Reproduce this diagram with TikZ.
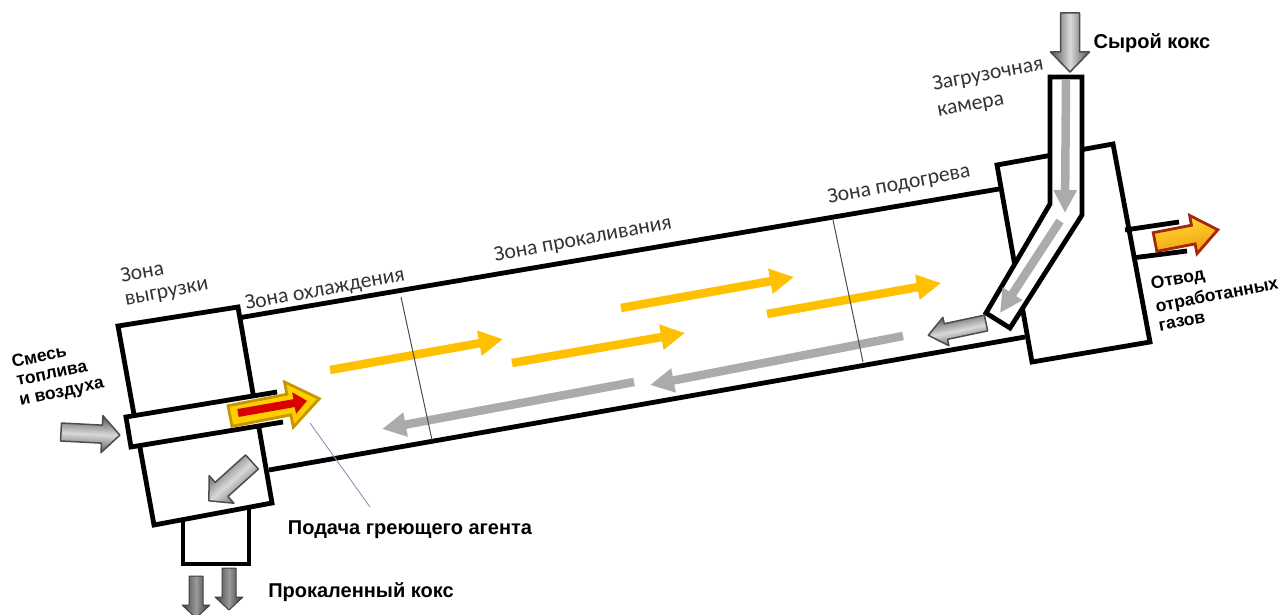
\documentclass[tikz,border=0pt]{standalone}
\usepackage{fontspec}
\setmainfont{Carlito}
\newfontfamily\boldlab{Liberation Sans}
\usetikzlibrary{arrows.meta}
\definecolor{flameY}{HTML}{FFC000}
\definecolor{grayflow}{HTML}{ABABAB}
\definecolor{zonetxt}{HTML}{333333}
\definecolor{goldedge}{HTML}{C89600}
\definecolor{goldfill}{HTML}{FFCE00}
\definecolor{rededge}{HTML}{A5280F}
\definecolor{flamemid}{HTML}{FFE030}
\definecolor{flamelow}{HTML}{F29A10}
\newcommand{\arrang}{0}
\tikzset{
  wall/.style={line width=4.8pt,black,line join=miter},
  divider/.style={line width=1pt,black!70},
  leader/.style={line width=0.9pt,blue!25!gray!70},
  hotflow/.style={line width=8.5pt,flameY,-{Triangle[length=24pt,width=24pt]}},
  coldflow/.style={line width=8.5pt,grayflow,-{Triangle[length=24pt,width=23pt]}},
  chuteflow/.style={line width=8.5pt,grayflow,-{Triangle[length=23pt,width=22pt]}},
  zonelab/.style={font=\fontsize{21.7}{24}\selectfont,text=zonetxt,inner sep=0pt,rotate=10.5},
  boldlabel/.style={font=\boldlab\bfseries\fontsize{20}{23}\selectfont,inner sep=0pt},
  smalllab/.style={font=\boldlab\bfseries\fontsize{17.5}{20}\selectfont,inner sep=0pt},
  steel/.style={draw=black!70,line width=1.5pt,line join=round,top color=black!68,bottom color=black!68,middle color=black!15,shading angle=\arrang},
  darksteel/.style={draw=black!75,line width=1pt,line join=round,top color=black!80,bottom color=black!75,middle color=black!40,shading angle=\arrang},
  goldflame/.style={draw=goldedge,line width=2.8pt,line join=miter,fill=goldfill},
  redcore/.style={draw=none,fill=red!85!black},
  redflame/.style={draw=rededge,line width=2.8pt,line join=miter,top color=flamemid,middle color=flamemid,bottom color=flamelow,shading angle=\arrang}
}
% block arrow: x, y, visual angle, length, shaft half, head half, head length, style
\newcommand{\blockarr}[8]{%
  \begin{scope}[shift={(#1,#2)},rotate=#3]
    \renewcommand{\arrang}{#3}%
    \path[#8] (0,-#5) -- ({#4-#7},-#5) -- ({#4-#7},-#6) -- (#4,0)
      -- ({#4-#7},#6) -- ({#4-#7},#5) -- (0,#5) -- cycle;
  \end{scope}}
\begin{document}
\begin{tikzpicture}[x=1pt,y=-1pt]
\useasboundingbox (0,0) rectangle (1283,615);
% tube walls
\coordinate (tubeTL) at (238,318);
\coordinate (tubeTR) at (999,189);
\coordinate (tubeBL) at (269,470);
\coordinate (tubeBR) at (1025,337);
\draw[wall] (tubeTL) -- (tubeTR);
\draw[wall] (tubeBL) -- (tubeBR);
% internal flows
\coordinate (h1a) at (330,370); \coordinate (h1b) at (503,339);
\coordinate (h2a) at (512,363); \coordinate (h2b) at (685,333);
\coordinate (h3a) at (621,308); \coordinate (h3b) at (794,277);
\coordinate (h4a) at (767,314); \coordinate (h4b) at (941,283);
\draw[hotflow] (h1a) -- (h1b);
\draw[hotflow] (h2a) -- (h2b);
\draw[hotflow] (h3a) -- (h3b);
\draw[hotflow] (h4a) -- (h4b);
\coordinate (c1a) at (903,336); \coordinate (c1b) at (650,385);
\coordinate (c2a) at (634,382); \coordinate (c2b) at (382,429);
\draw[coldflow] (c1a) -- (c1b);
\draw[coldflow] (c2a) -- (c2b);
% zone dividers
\coordinate (d1a) at (401,297); \coordinate (d1b) at (432,440);
\coordinate (d2a) at (833,220); \coordinate (d2b) at (863,362);
\draw[divider] (d1a) -- (d1b);
\draw[divider] (d2a) -- (d2b);
% discharge chamber
\draw[wall,fill=white] (118,326) -- (238,307) -- (272,503) -- (154,525) -- cycle;
\draw[wall] (183,520) -- (183,564) -- (249,564) -- (249,508);
% burner pipe
\fill[white] (126,417) -- (277,392) -- (283,422) -- (131,447) -- cycle;
\draw[wall] (277,392) -- (126,417) -- (131,447) -- (283,422);
% loading chamber
\draw[wall,fill=white] (997,165) -- (1113,144) -- (1150,342) -- (1032,362) -- cycle;
\draw[wall] (1125,230) -- (1179,222);
\draw[wall] (1132,258) -- (1187,251);
% chute
\draw[wall,fill=white] (1050,77) -- (1082,77) -- (1082,215) -- (1010,328) -- (986,313) -- (1050,204) -- cycle;
\coordinate (e1a) at (1066,80); \coordinate (e1b) at (1065,213);
\coordinate (e2a) at (1060,221); \coordinate (e2b) at (1000,313);
\draw[chuteflow] (e1a) -- (e1b);
\draw[chuteflow] (e2a) -- (e2b);
% leader
\coordinate (la) at (310,423); \coordinate (lb) at (370,507);
\draw[leader] (la) -- (lb);
% block arrows
\blockarr{61}{432}{-3}{59}{9}{18.5}{18}{steel}
\blockarr{252}{462}{222}{58}{9.5}{18.5}{17}{steel}
\blockarr{196}{576}{-90}{42}{7}{14}{13}{darksteel}
\blockarr{229}{568}{-90}{42}{7}{14}{13}{darksteel}
\blockarr{1070}{13}{-90}{59}{9.5}{19.5}{20}{steel}
\blockarr{986}{323}{192}{59}{8}{14.5}{18}{steel}
% flame arrows
\blockarr{230}{416}{11}{91}{10.5}{23}{31}{goldflame}
\blockarr{238}{413}{10}{70}{4}{11}{13}{redcore}
\blockarr{1155}{242}{11}{64}{9.5}{19.5}{25}{redflame}
% labels
\node[zonelab] (zv1) at (142,272) {Зона};
\node[zonelab] (zv2) at (167,294) {выгрузки};
\node[zonelab] (zo) at (325,290) {Зона охлаждения};
\node[zonelab] (zp) at (583,240) {Зона прокаливания};
\node[zonelab] (zd) at (899,185) {Зона подогрева};
\node[zonelab] (zz1) at (988,75) {Загрузочная};
\node[zonelab] (zz2) at (971,107) {камера};
\node[boldlabel] (raw) at (1152,43) {Сырой кокс};
\node[boldlabel] (feed) at (410,530) {Подача греющего агента};
\node[boldlabel] (prod) at (361,592) {Прокаленный кокс};
\node[smalllab,rotate=11] (g1) at (1178,280) {Отвод};
\node[smalllab,rotate=11] (g2) at (1217,296) {отработанных};
\node[smalllab,rotate=11] (g3) at (1182,322) {газов};
\node[smalllab,rotate=12] (f1) at (39,356) {Смесь};
\node[smalllab,rotate=12] (f2) at (52,374) {топлива};
\node[smalllab,rotate=12] (f3) at (62,394) {и воздуха};
\end{tikzpicture}
\end{document}
